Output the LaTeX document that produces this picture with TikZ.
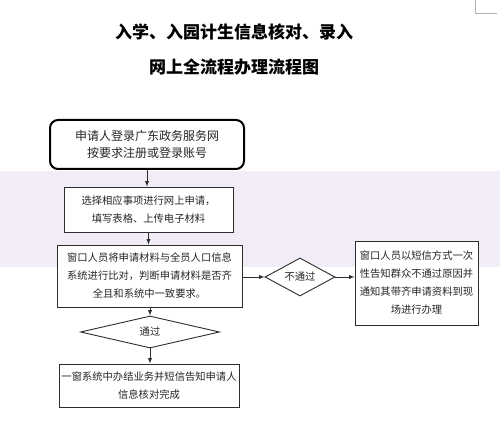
\documentclass[tikz,border=0pt]{standalone}
\usepackage{fontspec}
\setmainfont{Noto Sans CJK SC}
\newfontfamily\cjk{Noto Sans CJK SC}
\usetikzlibrary{shapes.geometric,arrows}
\definecolor{bandcol}{RGB}{242,236,246}
\definecolor{linecol}{RGB}{45,45,45}
\tikzset{
  stepbox/.style={draw=linecol, line width=0.9pt, fill=white, align=center, inner sep=0pt,
    font=\cjk\fontsize{10.3}{18}\selectfont, text=black!85},
  checkbox/.style={draw=linecol, line width=0.9pt, diamond, fill=white, inner sep=0pt,
    font=\cjk\fontsize{10.3}{12}\selectfont, text=black!85},
  flow/.style={draw=linecol, line width=0.9pt, ->, >=latex}
}
\begin{document}
\begin{tikzpicture}[x=1pt, y=-1pt]
\useasboundingbox[fill=white] (0,0) rectangle (500,446);
\fill[bandcol] (0,171) rectangle (500,267);
\draw[black!30, line width=0.6pt] (475,0) -- (475,13) -- (497,13);

\node[font=\cjk\bfseries\fontsize{17}{20}\selectfont] (title1) at (234,32) {入学、入园计生信息核对、录入};
\node[font=\cjk\bfseries\fontsize{17}{20}\selectfont] (title2) at (234,67) {网上全流程办理流程图};

\node[stepbox, draw=black, line width=2pt, rounded corners=8pt, minimum width=194pt, minimum height=49pt,
  font=\cjk\fontsize{12}{17}\selectfont] (login) at (147,144.5) {申请人登录广东政务服务网\\按要求注册或登录账号};
\node[stepbox, minimum width=169pt, minimum height=45pt] (apply) at (148.5,209.5) {选择相应事项进行网上申请，\\填写表格、上传电子材料};
\node[stepbox, minimum width=185pt, minimum height=62pt] (compare) at (149.5,276) {窗口人员将申请材料与全员人口信息\\系统进行比对，判断申请材料是否齐\\全且和系统中一致要求。};
\node[checkbox, minimum width=70pt, minimum height=38pt, aspect=1.84] (fail) at (300,277) {不通过};
\node[stepbox, minimum width=123pt, minimum height=84pt] (notify) at (416.5,283) {窗口人员以短信方式一次\\性告知群众不通过原因并\\通知其带齐申请资料到现\\场进行办理};
\node[checkbox, minimum width=139pt, minimum height=32pt, aspect=4.3] (pass) at (150,332) {通过};
\node[stepbox, minimum width=180pt, minimum height=43pt] (done) at (149,385.5) {一窗系统中办结业务并短信告知申请人\\信息核对完成};

\path[flow] (login.south) -- (login.south |- apply.north);
\path[flow] (apply.south) -- (apply.south |- compare.north);
\path[flow] (compare.east |- fail.west) -- (fail.west);
\path[flow] (fail.east) -- (notify.west |- fail.east);
\path[flow] (compare.south -| pass.north) -- (pass.north);
\path[flow] (pass.south) -- (pass.south |- done.north);
\end{tikzpicture}
\end{document}
